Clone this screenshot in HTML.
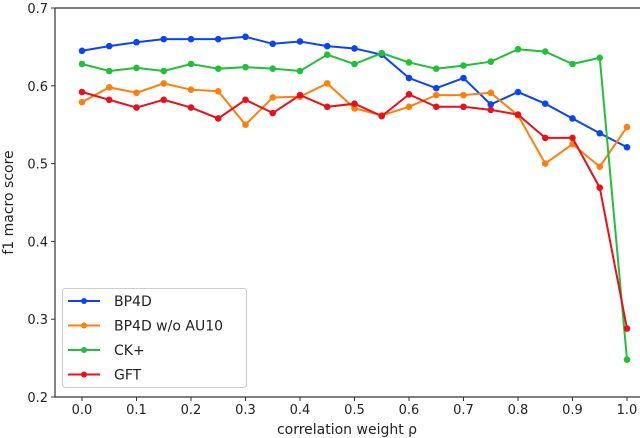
<!DOCTYPE html>
<html><head><meta charset="utf-8"><style>
body{margin:0;background:#fff}
svg{display:block;font-family:"DejaVu Sans","Liberation Sans",sans-serif}
</style></head><body>
<svg id="chart" width="640" height="438" viewBox="0 0 640 438">
<g id="series"></g>
<g id="axes"></g>
<g id="legend"></g>
</svg>
<script>
const categories=[0,0.05,0.1,0.15,0.2,0.25,0.3,0.35,0.4,0.45,0.5,0.55,0.6,0.65,0.7,0.75,0.8,0.85,0.9,0.95,1.0];
const bp4d=[0.645,0.651,0.656,0.660,0.660,0.660,0.663,0.654,0.657,0.651,0.648,0.640,0.610,0.597,0.610,0.576,0.592,0.577,0.558,0.539,0.521];
const bp4dNoAu10=[0.579,0.598,0.591,0.603,0.595,0.593,0.550,0.585,0.586,0.603,0.571,0.562,0.573,0.588,0.588,0.591,0.562,0.500,0.525,0.496,0.547];
const ckPlus=[0.628,0.619,0.623,0.619,0.628,0.622,0.624,0.622,0.619,0.640,0.628,0.642,0.630,0.622,0.626,0.631,0.647,0.644,0.628,0.636,0.248];
const gft=[0.592,0.582,0.572,0.582,0.572,0.558,0.582,0.565,0.588,0.573,0.577,0.561,0.589,0.573,0.573,0.569,0.563,0.533,0.533,0.469,0.288];
const xTicks=[0,0.1,0.2,0.3,0.4,0.5,0.6,0.7,0.8,0.9,1.0];
const yTicks=[0.2,0.3,0.4,0.5,0.6,0.7];
const seriesNames=["BP4D","BP4D w/o AU10","CK+","GFT"];
const seriesColors=["#0a45f5","#ff7f0e","#22c038","#e8101a"];
const NS="http://www.w3.org/2000/svg";
const L=55,R=640,T=8,B=397;
const xs=v=>82+(v-0)*545;
const ys=v=>B-(v-0.2)/0.5*(B-T);
function mk(tag,attrs,parent){const e=document.createElementNS(NS,tag);for(const k in attrs)e.setAttribute(k,attrs[k]);parent.appendChild(e);return e;}
const axes=document.getElementById('axes');
const sg=document.getElementById('series');
const lg=document.getElementById('legend');
let sp=mk('path',{d:`M${L},${T} H${R} M${L},${T} V${B} H${R}`,stroke:'#333',fill:'none','stroke-width':1.2},axes);


xTicks.forEach(t=>{
 const x=xs(t);
 const l=mk('line',{x1:x,x2:x,y1:B,y2:B+4,stroke:'#333'},axes);
 
 
 const tx=mk('text',{x:x,y:B+17,'text-anchor':'middle','font-size':13,fill:'#222'},axes);
 tx.textContent=t.toFixed(1);
 
 
});
yTicks.forEach(t=>{
 const y=ys(t);
 const l=mk('line',{x1:L-4,x2:L,y1:y,y2:y,stroke:'#333'},axes);
 
 
 const tx=mk('text',{x:L-7,y:y+5,'text-anchor':'end','font-size':13,fill:'#222'},axes);
 tx.textContent=t.toFixed(1);
 
 
});
let xt=mk('text',{x:347,y:434,'text-anchor':'middle','font-size':14,fill:'#222'},axes);
xt.textContent='correlation weight ρ';


let yt=mk('text',{x:0,y:0,'text-anchor':'middle','font-size':14,fill:'#222',transform:`translate(13,${(T+B)/2}) rotate(-90)`},axes);
yt.textContent='f1 macro score';


const allSeries=[bp4d,bp4dNoAu10,ckPlus,gft];
allSeries.forEach((vals,i)=>{
 const g=mk('g',{},sg);
 
 
 const d=vals.map((v,j)=>(j?'L':'M')+xs(categories[j])+','+ys(v)).join(' ');
 const p=mk('path',{d:d,stroke:seriesColors[i],fill:'none','stroke-width':2},g);
 
 
 vals.forEach((v,j)=>{
  const c=mk('circle',{cx:xs(categories[j]),cy:ys(v),r:3.3,fill:seriesColors[i]},g);
  
  
 });
});
let box=mk('rect',{x:62.5,y:288.5,width:184,height:99,rx:3,fill:'#fff','fill-opacity':0.85,stroke:'#ccc'},lg);


seriesNames.forEach((n,i)=>{
 const y=301+i*24.5;
 const g=mk('g',{},lg);
 
 
 mk('line',{x1:68,x2:100,y1:y,y2:y,stroke:seriesColors[i],'stroke-width':2},g);
 mk('circle',{cx:84,cy:y,r:3,fill:seriesColors[i]},g);
 const t=mk('text',{x:114,y:y+5,'font-size':14,fill:'#222'},g);
 t.textContent=n;
});
</script>
</body></html>
